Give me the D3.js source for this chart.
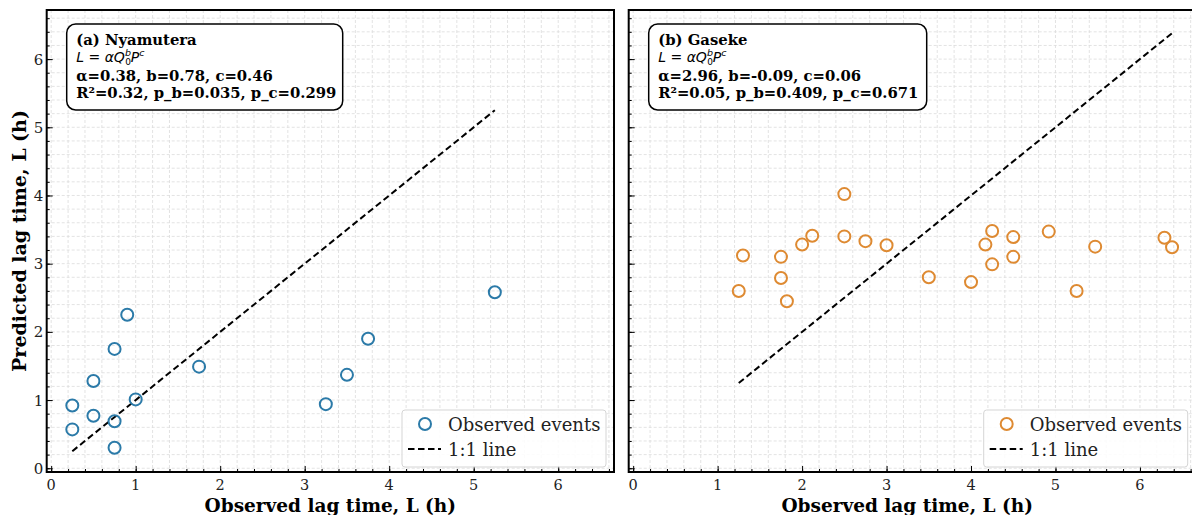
<!DOCTYPE html>
<html>
<head>
<meta charset="utf-8">
<script src="https://cdn.jsdelivr.net/npm/d3@7"></script>
<style>
  body { margin: 0; background: #fff; }
  svg { display: block; }
</style>
</head>
<body>
<svg id="chart" width="1192" height="515"></svg>
<script>
// observed / predicted lag times (h)
const nyamuteraObs = [0.25, 0.25, 0.5, 0.5, 0.75, 0.75, 0.75, 0.9, 1.0, 1.75, 3.25, 3.5, 3.75, 5.25];
const nyamuteraPred = [0.92, 0.57, 1.28, 0.77, 1.75, 0.69, 0.30, 2.25, 1.01, 1.49, 0.94, 1.37, 1.90, 2.58];

const gasekeObs = [1.25, 1.3, 1.75, 1.75, 1.82, 2.0, 2.12, 2.5, 2.5, 2.75, 3.0, 3.5, 4.0, 4.17, 4.25, 4.25, 4.5, 4.5, 4.92, 5.25, 5.47, 6.29, 6.38];
const gasekePred = [2.60, 3.12, 3.10, 2.79, 2.45, 3.28, 3.41, 4.02, 3.40, 3.33, 3.27, 2.80, 2.73, 3.28, 3.48, 2.99, 3.39, 3.10, 3.47, 2.60, 3.25, 3.38, 3.24];

const xTicks = [0, 1, 2, 3, 4, 5, 6];
const yTicks = [0, 1, 2, 3, 4, 5, 6];

const panelTitles = ['(a) Nyamutera', '(b) Gaseke'];
const paramLines = ['α=0.38, b=0.78, c=0.46', 'α=2.96, b=-0.09, c=0.06'];
const statLines = ['R²=0.32, p_b=0.035, p_c=0.299', 'R²=0.05, p_b=0.409, p_c=0.671'];
const legendLabels = ['Observed events', '1:1 line'];

const serif = '"DejaVu Serif", serif';
const svg = d3.select('#chart');

const panels = [
  {obs: nyamuteraObs, pred: nyamuteraPred, color: '#2b7aa8', left: 46.7, right: 614, boxW: 276, showY: true},
  {obs: gasekeObs, pred: gasekePred, color: '#de8a32', left: 628.7, right: 1195.7, boxW: 278, showY: false},
];
const plotTop = 10, plotBottom = 472;

panels.forEach((p, i) => {
  const x = d3.scaleLinear().domain([-0.053, 6.66]).range([p.left, p.right]);
  const y = d3.scaleLinear().domain([-0.055, 6.72]).range([plotBottom, plotTop]);
  const g = svg.append('g');

  const minor = d3.range(0, 6.7, 0.2);

  // grid
  g.append('g').selectAll('line').data(minor).join('line')
    .attr('x1', d => x(d)).attr('x2', d => x(d))
    .attr('y1', plotTop).attr('y2', plotBottom)
    .attr('stroke', '#dcdcdc').attr('stroke-width', 0.8)
    .attr('stroke-dasharray', '3,2');
  g.append('g').selectAll('line').data(minor).join('line')
    .attr('y1', d => y(d)).attr('y2', d => y(d))
    .attr('x1', p.left).attr('x2', p.right)
    .attr('stroke', '#dcdcdc').attr('stroke-width', 0.8)
    .attr('stroke-dasharray', '3,2');

  // ticks (inward)
  const xAxis = d3.axisTop(x).tickValues(xTicks).tickSize(6).tickFormat('');
  const xMinor = d3.axisTop(x).tickValues(minor).tickSize(3).tickFormat('');
  const yAxis = d3.axisRight(y).tickValues(yTicks).tickSize(6).tickFormat('');
  const yMinor = d3.axisRight(y).tickValues(minor).tickSize(3).tickFormat('');
  [xAxis, xMinor].forEach(a => {
    g.append('g').attr('transform', `translate(0,${plotBottom})`).call(a)
      .call(s => s.select('.domain').remove())
      .selectAll('line').attr('stroke', '#000').attr('stroke-width', 1);
  });
  [yAxis, yMinor].forEach(a => {
    g.append('g').attr('transform', `translate(${p.left},0)`).call(a)
      .call(s => s.select('.domain').remove())
      .selectAll('line').attr('stroke', '#000').attr('stroke-width', 1);
  });

  // tick labels
  g.append('g').selectAll('text').data(xTicks).join('text')
    .attr('x', d => x(d)).attr('y', plotBottom + 17.5)
    .attr('text-anchor', 'middle')
    .style('font', `14.5px ${serif}`).attr('fill', '#222')
    .text(d => d);
  if (p.showY) {
    g.append('g').selectAll('text').data(yTicks).join('text')
      .attr('x', p.left - 3.5).attr('y', d => y(d) + 5.5)
      .attr('text-anchor', 'end')
      .style('font', `15px ${serif}`).attr('fill', '#222')
      .text(d => d);
  }

  // 1:1 line
  const ext = d3.extent(p.obs);
  g.append('line')
    .attr('x1', x(ext[0])).attr('y1', y(ext[0]))
    .attr('x2', x(ext[1])).attr('y2', y(ext[1]))
    .attr('stroke', '#000').attr('stroke-width', 2)
    .attr('stroke-dasharray', '6.5,3.5');

  // points
  g.append('g').selectAll('circle').data(p.obs).join('circle')
    .attr('cx', d => x(d))
    .attr('cy', (d, k) => y(p.pred[k]))
    .attr('r', 6)
    .attr('fill', 'none')
    .attr('stroke', p.color).attr('stroke-width', 2);

  // frame
  g.append('rect')
    .attr('x', p.left).attr('y', plotTop)
    .attr('width', p.right - p.left).attr('height', plotBottom - plotTop)
    .attr('fill', 'none').attr('stroke', '#000').attr('stroke-width', 2);

  // annotation box
  const bx = p.left + 20, by = 24;
  g.append('rect')
    .attr('x', bx).attr('y', by).attr('width', p.boxW).attr('height', 86)
    .attr('rx', 9).attr('fill', '#fff')
    .attr('stroke', '#000').attr('stroke-width', 1.5);
  const tx = bx + 9.5;
  g.append('text').attr('x', tx).attr('y', 44.5)
    .style('font', `bold 14.8px ${serif}`).text(panelTitles[i]);
  const f = g.append('text').attr('x', tx).attr('y', 61.5)
    .style('font', 'italic 14px "DejaVu Sans", sans-serif');
  f.append('tspan').text('L');
  f.append('tspan').style('font-style', 'normal').text(' = ');
  f.append('tspan').text('αQ');
  f.append('tspan').attr('dy', -5.5).style('font-size', '9.5px').text('b');
  f.append('tspan').attr('dx', -5.8).attr('dy', 8.5).style('font-size', '9px').style('font-style', 'normal').text('0');
  f.append('tspan').attr('dy', -3).text('P');
  f.append('tspan').attr('dy', -5.5).style('font-size', '9.5px').text('c');
  g.append('text').attr('x', tx).attr('y', 81)
    .style('font', `bold 14.8px ${serif}`).text(paramLines[i]);
  g.append('text').attr('x', tx).attr('y', 98)
    .style('font', `bold 14.8px ${serif}`).text(statLines[i]);

  // legend
  const lr = p.right - 8, lw = 204, lx = lr - lw;
  g.append('rect')
    .attr('x', lx).attr('y', 410).attr('width', lw).attr('height', 57)
    .attr('rx', 3).attr('fill', '#fff').attr('fill-opacity', 0.85)
    .attr('stroke', '#d5d5d5').attr('stroke-width', 1);
  g.append('circle').attr('cx', lx + 23).attr('cy', 424).attr('r', 6)
    .attr('fill', 'none').attr('stroke', p.color).attr('stroke-width', 2);
  g.append('line').attr('x1', lx + 6).attr('x2', lx + 39).attr('y1', 449).attr('y2', 449)
    .attr('stroke', '#000').attr('stroke-width', 2).attr('stroke-dasharray', '6.5,3.5');
  g.selectAll('text.leg').data(legendLabels).join('text')
    .attr('class', 'leg')
    .attr('x', lx + 46).attr('y', (d, k) => 430.5 + k * 25)
    .style('font', `18px ${serif}`).attr('fill', '#222')
    .text(d => d);

  // x label
  g.append('text')
    .attr('x', (p.left + p.right) / 2 - (i ? 5 : 0)).attr('y', 511.5)
    .attr('text-anchor', 'middle')
    .style('font', `bold 18.5px ${serif}`)
    .text('Observed lag time, L (h)');
});

// y label
svg.append('text')
  .attr('transform', `translate(26,${(plotTop + plotBottom) / 2}) rotate(-90)`)
  .attr('text-anchor', 'middle')
  .style('font', `bold 19px ${serif}`)
  .text('Predicted lag time, L (h)');
</script>
</body>
</html>
